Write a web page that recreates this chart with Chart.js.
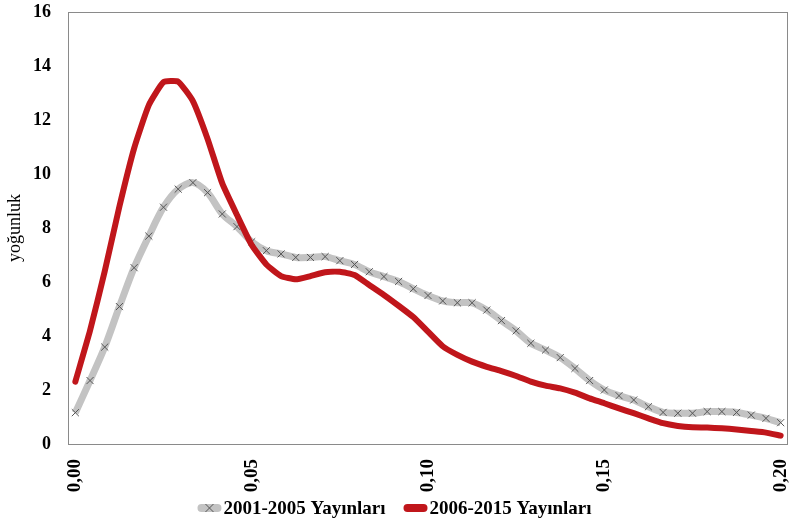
<!DOCTYPE html>
<html>
<head>
<meta charset="utf-8">
<script src="https://cdn.jsdelivr.net/npm/chart.js@4/dist/chart.umd.min.js"></script>
<style>
  body { margin: 0; background: #fff; }
  #wrap { width: 789px; height: 523px; }
</style>
</head>
<body>
<div id="wrap"><canvas id="densityChart"></canvas></div>
<script>
// x values 0.00 .. 0.20, 49 points
const xValues = Array.from({ length: 49 }, (_, i) => (i * 0.2 / 48));

const series2001 = [
    1.16, 2.35, 3.59, 5.09, 6.53, 7.70, 8.77, 9.44, 9.68, 9.31,
    8.52, 8.05, 7.49, 7.16, 7.04, 6.91, 6.91, 6.94, 6.79, 6.65,
    6.38, 6.20, 6.02, 5.75, 5.50, 5.30, 5.23, 5.23, 4.96, 4.57,
    4.19, 3.73, 3.48, 3.20, 2.80, 2.35, 2.00, 1.79, 1.63, 1.38,
    1.17, 1.14, 1.14, 1.20, 1.20, 1.17, 1.07, 0.95, 0.79
];

const series2006 = [
    2.31, 4.20, 6.40, 8.80, 10.95, 12.55, 13.40, 13.42, 12.70, 11.30,
    9.65, 8.48, 7.37, 6.65, 6.22, 6.10, 6.22, 6.36, 6.38, 6.26,
    5.89, 5.52, 5.12, 4.70, 4.16, 3.62, 3.30, 3.05, 2.86, 2.70,
    2.52, 2.31, 2.16, 2.06, 1.90, 1.69, 1.51, 1.32, 1.14, 0.95,
    0.77, 0.67, 0.62, 0.61, 0.58, 0.54, 0.48, 0.42, 0.31
];

const yTicks = [0, 2, 4, 6, 8, 10, 12, 14, 16];

const serif = "'Liberation Serif', 'DejaVu Serif', serif";

// grey frame round the plot area, and a small legend under the labels
const frame = {
    id: "frame",
    afterDraw(chart) {
        const a = chart.chartArea;
        const ctx = chart.ctx;
        ctx.save();
        ctx.strokeStyle = "#8a8a8a";
        ctx.lineWidth = 1;
        ctx.strokeRect(a.left + 0.5, a.top + 0.5, a.right - a.left - 1, a.bottom - a.top);

        ctx.font = "bold 19px " + serif;
        ctx.textBaseline = "middle";
        const sw = 24, gap = 2, spacing = 18, y = 508;
        const items = chart.data.datasets.map(ds => ({
            text: ds.label, color: ds.borderColor, cross: ds.pointStyle === "crossRot",
            w: ctx.measureText(ds.label).width
        }));
        const total = items.reduce((s, it) => s + sw + gap + it.w, 0) + spacing * (items.length - 1);
        let x = (chart.width - total) / 2;
        items.forEach(it => {
            ctx.fillStyle = it.color;
            ctx.beginPath();
            ctx.roundRect(x, y - 4, sw, 8, 4);
            ctx.fill();
            if (it.cross) {
                const cx = x + sw / 2;
                ctx.strokeStyle = "#555";
                ctx.beginPath();
                ctx.moveTo(cx - 4, y - 4); ctx.lineTo(cx + 4, y + 4);
                ctx.moveTo(cx + 4, y - 4); ctx.lineTo(cx - 4, y + 4);
                ctx.stroke();
            }
            ctx.fillStyle = "#000";
            ctx.fillText(it.text, x + sw + gap, y + 1);
            x += sw + gap + it.w + spacing;
        });
        ctx.restore();
    }
};

new Chart(document.getElementById("densityChart"), {
    type: "line",
    data: {
        labels: xValues.map(v => v.toFixed(2).replace(".", ",")),
        datasets: [{
            label: "2001-2005 Yayınları",
            data: series2001,
            borderColor: "#c3c3c3",
            backgroundColor: "#c3c3c3",
            borderWidth: 7,
            tension: 0.3,
            pointStyle: "crossRot",
            pointRadius: 5,
            pointBorderColor: "#555555",
            pointBorderWidth: 1,
            order: 1
        }, {
            label: "2006-2015 Yayınları",
            data: series2006,
            borderColor: "#c0161b",
            backgroundColor: "#c0161b",
            borderWidth: 6,
            tension: 0.15,
            pointRadius: 0,
            borderCapStyle: "round",
            order: 0
        }]
    },
    options: {
        responsive: true,
        maintainAspectRatio: false,
        animation: false,
        layout: { autoPadding: false, padding: { top: 12, right: 1, left: 0, bottom: 0 } },
        plugins: {
            tooltip: { enabled: false },
            legend: { display: false }
        },
        scales: {
            x: {
                offset: true,
                grid: { display: false },
                border: { display: false },
                ticks: {
                    autoSkip: false,
                    minRotation: 90,
                    maxRotation: 90,
                    padding: 7,
                    color: "#000",
                    font: { family: serif, size: 19, weight: "bold" },
                    callback: function (val, i) {
                        return i % 12 === 0 ? this.getLabelForValue(val) : "";
                    }
                },
                afterFit: s => { s.height = 79; s.paddingLeft = 0; s.paddingRight = 0; }
            },
            y: {
                min: 0,
                max: 16,
                afterBuildTicks: s => { s.ticks = yTicks.map(v => ({ value: v })); },
                grid: { display: false },
                border: { display: false },
                ticks: {
                    color: "#000",
                    padding: 9,
                    font: { family: serif, size: 18, weight: "bold" }
                },
                title: {
                    display: true,
                    text: "yoğunluk",
                    color: "#000",
                    font: { family: serif, size: 18 }
                },
                afterFit: s => { s.width = 68; s.paddingTop = 0; s.paddingBottom = 0; }
            }
        }
    },
    plugins: [frame]
});
</script>
</body>
</html>
